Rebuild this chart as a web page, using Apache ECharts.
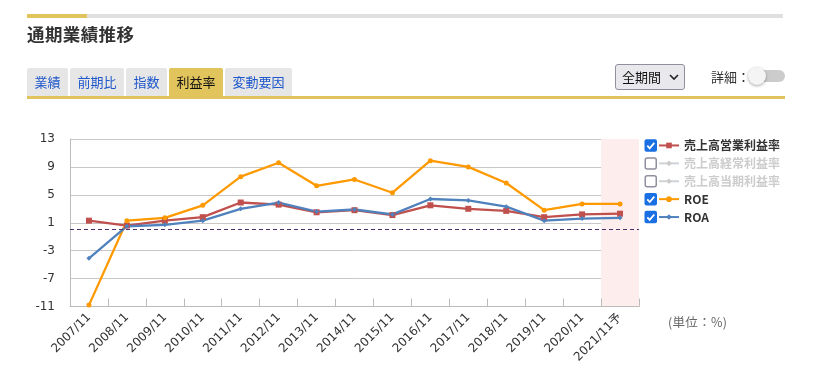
<!DOCTYPE html>
<html>
<head>
<meta charset="utf-8">
<script src="https://cdn.jsdelivr.net/npm/echarts@6/dist/echarts.min.js"></script>
<style>
  html, body { margin: 0; padding: 0; background: #fff; width: 825px; height: 373px; overflow: hidden; font-family: "Noto Sans CJK JP", "Noto Sans", sans-serif; }
  #chart { position: absolute; left: 0; top: 0; width: 825px; height: 373px; }
  .abs { position: absolute; }
  .bar-gray { left: 27px; top: 14px; width: 756px; height: 4px; background: #e0e0e0; }
  .bar-gold { left: 27px; top: 14px; width: 60px; height: 4px; background: #e1c45c; }
  .title { left: 27px; top: 22px; font-size: 17.5px; font-weight: bold; color: #333; line-height: 24px; letter-spacing: 0.4px; }
  .tab { top: 68px; height: 28px; background: #e6e6e6; color: #1f58cc; font-size: 13px; line-height: 28px; text-align: center; border-radius: 2px 2px 0 0; }
  .tab.active { background: #e1c45c; color: #111; }
  .underline { left: 27px; top: 96px; width: 758px; height: 3px; background: #e1c45c; }
  .select { left: 615px; top: 64px; width: 68px; height: 24px; background: #e9e9ed; border: 1px solid #8f8f9d; border-radius: 3px; font-size: 13px; line-height: 24px; color: #111; box-sizing: content-box; }
  .select span { position: absolute; left: 6px; top: 0; }
  .select svg { position: absolute; left: 53px; top: 9px; }
  .detail { left: 711px; top: 66px; font-size: 13px; color: #333; line-height: 22px; }
  .track { left: 751px; top: 70px; width: 34px; height: 12px; background: #ccc; border-radius: 6px; }
  .knob { left: 748px; top: 67px; width: 18px; height: 18px; background: #f4f4f4; border-radius: 50%; box-shadow: 0 1px 3px rgba(0,0,0,0.35); }
  .unit { left: 668px; top: 312px; font-size: 12.5px; color: #666; line-height: 20px; letter-spacing: 0.3px; }
</style>
</head>
<body>
<div id="chart"></div>
<div class="abs bar-gray"></div>
<div class="abs bar-gold"></div>
<div class="abs title">通期業績推移</div>
<div class="abs tab" style="left:27px;width:41px;">業績</div>
<div class="abs tab" style="left:70px;width:54px;">前期比</div>
<div class="abs tab" style="left:126px;width:41px;">指数</div>
<div class="abs tab active" style="left:169px;width:54px;">利益率</div>
<div class="abs tab" style="left:225px;width:67px;">変動要因</div>
<div class="abs underline"></div>
<div class="abs select"><span>全期間</span><svg width="10" height="7" viewBox="0 0 10 7"><polyline points="1,1 5,5 9,1" fill="none" stroke="#222" stroke-width="1.6"/></svg></div>
<div class="abs detail">詳細：</div>
<div class="abs track"></div>
<div class="abs knob"></div>
<div class="abs unit">(単位：%)</div>
<script>
const categories = ['2007/11','2008/11','2009/11','2010/11','2011/11','2012/11','2013/11','2014/11','2015/11','2016/11','2017/11','2018/11','2019/11','2020/11','2021/11予'];
const operatingMargin = [1.3, 0.6, 1.3, 1.8, 3.9, 3.6, 2.5, 2.8, 2.1, 3.5, 3.0, 2.7, 1.8, 2.2, 2.3];
const ordinaryMargin = [];
const netMargin = [];
const roe = [-10.8, 1.3, 1.7, 3.5, 7.6, 9.6, 6.3, 7.2, 5.3, 9.9, 9.0, 6.7, 2.8, 3.7, 3.7];
const roa = [-4.1, 0.5, 0.7, 1.3, 3.0, 3.9, 2.6, 2.9, 2.2, 4.4, 4.2, 3.3, 1.3, 1.6, 1.7];
const yTicks = { min: -11, max: 13, interval: 4 };
const legendNames = ['売上高営業利益率', '売上高経常利益率', '売上高当期利益率', 'ROE', 'ROA'];
const legendSelected = [true, false, false, true, true];
const forecastCategory = '2021/11予';

const chart = echarts.init(document.getElementById('chart'), null, { renderer: 'canvas' });
const numFont = 'DejaVu Sans, Noto Sans CJK JP, sans-serif';

const selectedMap = {};
legendNames.forEach((n, i) => { selectedMap[n] = legendSelected[i]; });

function lineSeries(name, data, color, symbol, size) {
  return {
    name: name, type: 'line', data: data, color: color,
    symbol: symbol, symbolSize: size, showSymbol: true,
    lineStyle: { width: 2.3, color: color },
    itemStyle: { color: color },
    emphasis: { disabled: true },
    z: 3
  };
}

const option = {
  animation: false,
  grid: { left: 70, right: 186, top: 139, bottom: 66.5, containLabel: false },
  legend: {
    type: 'plain', orient: 'vertical', left: 658, top: 136.5, padding: 0,
    width: 160, height: 110,
    itemWidth: 20, itemHeight: 7, itemGap: 0,
    data: legendNames, selected: selectedMap, inactiveColor: '#ccc',
    textStyle: { fontSize: 12, fontWeight: 'bold', color: '#333', lineHeight: 17.9, fontFamily: 'Noto Sans CJK JP, sans-serif' },
    selectedMode: true
  },
  xAxis: {
    type: 'category', data: categories, boundaryGap: true,
    axisLine: { show: true, onZero: false, lineStyle: { color: '#bbb', width: 1 } },
    axisTick: { show: true, inside: true, length: 8, lineStyle: { color: '#bbb' } },
    axisLabel: { interval: 0, rotate: 45, margin: 9, fontSize: 12, color: '#333', fontFamily: numFont },
    splitLine: { show: false }
  },
  yAxis: {
    type: 'value', min: yTicks.min, max: yTicks.max, interval: yTicks.interval,
    axisLine: { show: true, lineStyle: { color: '#bbb' } },
    axisTick: { show: false },
    axisLabel: { margin: 15, fontSize: 12, color: '#333', fontFamily: numFont },
    splitLine: { lineStyle: { color: '#c8c8c8', width: 1 } }
  },
  series: [
    Object.assign(lineSeries(legendNames[0], operatingMargin, '#c0504d', 'rect', 6), {
      markLine: {
        silent: true, symbol: ['none', 'none'], label: { show: false },
        lineStyle: { color: '#4e3070', type: [4, 3], width: 1 },
        data: [{ yAxis: 0 }]
      }
    }),
    lineSeries(legendNames[1], ordinaryMargin, '#aaaaaa', 'diamond', 6),
    lineSeries(legendNames[2], netMargin, '#aaaaaa', 'diamond', 6),
    lineSeries(legendNames[3], roe, '#ff9900', 'circle', 5),
    lineSeries(legendNames[4], roa, '#4f81bd', 'diamond', 5)
  ]
};
chart.setOption(option);

// forecast band and legend checkboxes
const c1 = chart.convertToPixel({ xAxisIndex: 0 }, categories[categories.length - 2]);
const c2 = chart.convertToPixel({ xAxisIndex: 0 }, forecastCategory);
const bw = c2 - c1;
const yTop = chart.convertToPixel({ yAxisIndex: 0 }, yTicks.max);
const yBot = chart.convertToPixel({ yAxisIndex: 0 }, yTicks.min);
const graphics = [{
  type: 'rect', z: 0, silent: true,
  shape: { x: c2 - bw / 2, y: yTop, width: bw, height: yBot - yTop },
  style: { fill: '#fdeded' }
}];
const boxY0 = 145.5, boxStep = 17.9, boxX = 644.5, boxS = 12.5;
legendSelected.forEach((sel, i) => {
  const cy = boxY0 + i * boxStep;
  if (sel) {
    graphics.push({ type: 'rect', z: 10, silent: true,
      shape: { x: boxX, y: cy - boxS / 2, width: boxS, height: boxS, r: 2 },
      style: { fill: '#1a6fe3' } });
    graphics.push({ type: 'polyline', z: 11, silent: true,
      shape: { points: [[boxX + 2.8, cy + 0.2], [boxX + 5.2, cy + 2.8], [boxX + 9.8, cy - 2.6]] },
      style: { stroke: '#fff', lineWidth: 1.8, fill: null } });
  } else {
    graphics.push({ type: 'rect', z: 10, silent: true,
      shape: { x: boxX + 0.75, y: cy - boxS / 2 + 0.75, width: boxS - 1.5, height: boxS - 1.5, r: 2 },
      style: { fill: '#fff', stroke: '#8f8f9d', lineWidth: 1.5 } });
  }
});
chart.setOption({ graphic: graphics });
</script>
</body>
</html>
